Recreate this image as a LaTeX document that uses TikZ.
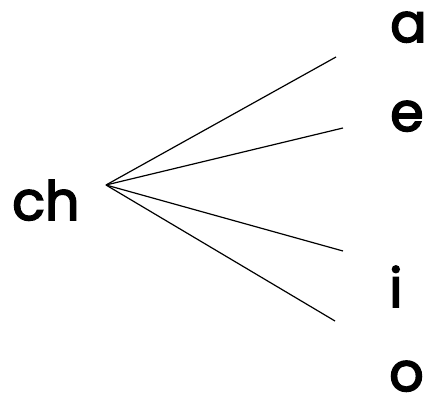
\documentclass[tikz,border=0pt]{standalone}
\usepackage{fontspec}
\setmainfont{Poppins}[FakeBold=3]
\begin{document}
\begin{tikzpicture}[x=1pt,y=-1pt,
  lbl/.style={anchor=base west,inner sep=0pt,font=\fontsize{54}{60}\selectfont},
  conn/.style={line width=1.2pt,black}]
\useasboundingbox (0,0) rectangle (427,403);
\node[lbl] (ch) at (12,220) {ch};
\node[lbl] (a) at (390,42) {a};
\node[lbl] (e) at (390,131) {e};
\node[lbl] (i) at (389,307) {i};
\node[lbl] (o) at (389,391) {o};
\coordinate (hub) at (106,185);
\coordinate (ea) at (336,57);
\coordinate (ee) at (343,128);
\coordinate (ei) at (343,251);
\coordinate (eo) at (335,321);
\draw[conn] (hub) -- (ea);
\draw[conn] (hub) -- (ee);
\draw[conn] (hub) -- (ei);
\draw[conn] (hub) -- (eo);
\end{tikzpicture}
\end{document}
